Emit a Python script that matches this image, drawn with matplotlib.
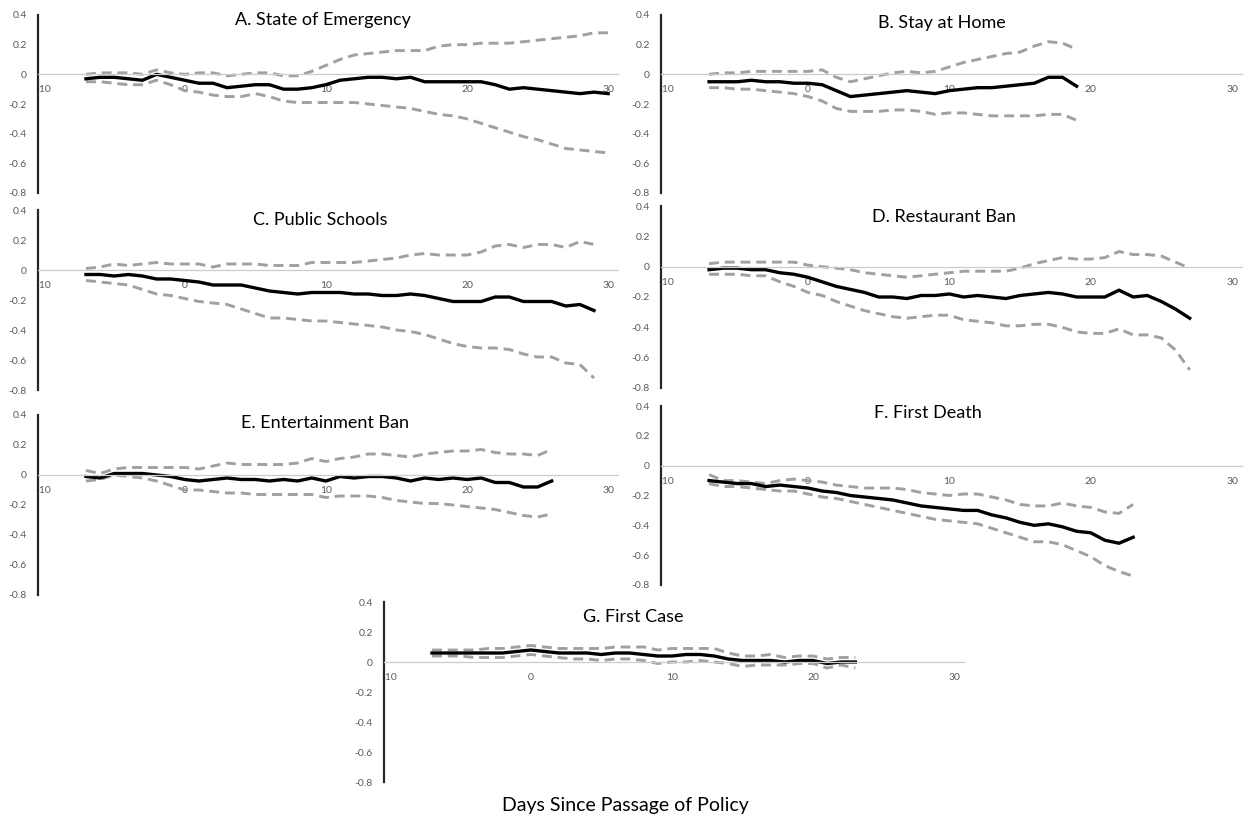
import numpy as np
import matplotlib
matplotlib.use('Agg')
import matplotlib.pyplot as plt

plt.rcParams['font.family'] = ['Lato', 'DejaVu Sans']

titles = ['A. State of Emergency', 'B. Stay at Home', 'C. Public Schools',
          'D. Restaurant Ban', 'E. Entertainment Ban', 'F. First Death',
          'G. First Case']
x_ticks = [-10, 0, 10, 20, 30]
y_ticks = [0.4, 0.2, 0, -0.2, -0.4, -0.6, -0.8]
y_tick_labels = ['0.4', '0.2', '0', '-0.2', '-0.4', '-0.6', '-0.8']

days_a = list(range(-7, 31))
est_a = [-0.03, -0.02, -0.02, -0.03, -0.04, 0.00, -0.02, -0.04, -0.06, -0.06,
         -0.09, -0.08, -0.07, -0.07, -0.10, -0.10, -0.09, -0.07, -0.04, -0.03,
         -0.02, -0.02, -0.03, -0.02, -0.05, -0.05, -0.05, -0.05, -0.05, -0.07,
         -0.10, -0.09, -0.10, -0.11, -0.12, -0.13, -0.12, -0.13]
upper_a = [0.00, 0.01, 0.01, 0.01, 0.00, 0.03, 0.01, 0.00, 0.01, 0.01,
           -0.01, 0.00, 0.01, 0.01, -0.01, -0.01, 0.02, 0.06, 0.10, 0.13,
           0.14, 0.15, 0.16, 0.16, 0.16, 0.19, 0.20, 0.20, 0.21, 0.21,
           0.21, 0.22, 0.23, 0.24, 0.25, 0.26, 0.28, 0.28]
lower_a = [-0.05, -0.05, -0.06, -0.07, -0.07, -0.04, -0.07, -0.11, -0.12, -0.14,
           -0.15, -0.15, -0.13, -0.15, -0.18, -0.19, -0.19, -0.19, -0.19, -0.19,
           -0.20, -0.21, -0.22, -0.23, -0.25, -0.27, -0.28, -0.30, -0.33, -0.36,
           -0.39, -0.42, -0.44, -0.47, -0.50, -0.51, -0.52, -0.53]

days_b = list(range(-7, 20))
est_b = [-0.05, -0.05, -0.05, -0.04, -0.05, -0.05, -0.06, -0.06, -0.07, -0.11,
         -0.15, -0.14, -0.13, -0.12, -0.11, -0.12, -0.13, -0.11, -0.10, -0.09,
         -0.09, -0.08, -0.07, -0.06, -0.02, -0.02, -0.08]
upper_b = [0.00, 0.01, 0.01, 0.02, 0.02, 0.02, 0.02, 0.02, 0.03, -0.02,
           -0.05, -0.03, -0.01, 0.01, 0.02, 0.01, 0.02, 0.05, 0.08, 0.10,
           0.12, 0.14, 0.15, 0.19, 0.22, 0.21, 0.17]
lower_b = [-0.09, -0.09, -0.10, -0.10, -0.11, -0.12, -0.13, -0.15, -0.18, -0.23,
           -0.25, -0.25, -0.25, -0.24, -0.24, -0.25, -0.27, -0.26, -0.26, -0.27,
           -0.28, -0.28, -0.28, -0.28, -0.27, -0.27, -0.31]

days_c = list(range(-7, 30))
est_c = [-0.03, -0.03, -0.04, -0.03, -0.04, -0.06, -0.06, -0.07, -0.08, -0.10,
         -0.10, -0.10, -0.12, -0.14, -0.15, -0.16, -0.15, -0.15, -0.15, -0.16,
         -0.16, -0.17, -0.17, -0.16, -0.17, -0.19, -0.21, -0.21, -0.21, -0.18,
         -0.18, -0.21, -0.21, -0.21, -0.24, -0.23, -0.27]
upper_c = [0.01, 0.02, 0.04, 0.03, 0.04, 0.05, 0.04, 0.04, 0.04, 0.02,
           0.04, 0.04, 0.04, 0.03, 0.03, 0.03, 0.05, 0.05, 0.05, 0.05,
           0.06, 0.07, 0.08, 0.10, 0.11, 0.10, 0.10, 0.10, 0.12, 0.16,
           0.17, 0.15, 0.17, 0.17, 0.15, 0.19, 0.17]
lower_c = [-0.07, -0.08, -0.09, -0.10, -0.13, -0.16, -0.17, -0.19, -0.21, -0.22,
           -0.23, -0.26, -0.29, -0.32, -0.32, -0.33, -0.34, -0.34, -0.35, -0.36,
           -0.37, -0.38, -0.40, -0.41, -0.43, -0.46, -0.49, -0.51, -0.52, -0.52,
           -0.53, -0.56, -0.58, -0.58, -0.62, -0.63, -0.72]

days_d = list(range(-7, 28))
est_d = [-0.02, -0.01, -0.01, -0.02, -0.02, -0.04, -0.05, -0.07, -0.10, -0.13,
         -0.15, -0.17, -0.20, -0.20, -0.21, -0.19, -0.19, -0.18, -0.20, -0.19,
         -0.20, -0.21, -0.19, -0.18, -0.17, -0.18, -0.20, -0.20, -0.20, -0.155,
         -0.20, -0.19, -0.23, -0.28, -0.34]
upper_d = [0.02, 0.03, 0.03, 0.03, 0.03, 0.03, 0.03, 0.01, 0.00, -0.01,
           -0.02, -0.04, -0.05, -0.06, -0.07, -0.06, -0.05, -0.04, -0.03, -0.03,
           -0.03, -0.03, -0.01, 0.02, 0.04, 0.06, 0.05, 0.05, 0.06, 0.10,
           0.08, 0.08, 0.07, 0.03, -0.01]
lower_d = [-0.05, -0.05, -0.05, -0.06, -0.06, -0.10, -0.13, -0.17, -0.19, -0.23,
           -0.26, -0.29, -0.31, -0.33, -0.34, -0.33, -0.32, -0.32, -0.35, -0.36,
           -0.37, -0.39, -0.39, -0.38, -0.38, -0.40, -0.43, -0.44, -0.44, -0.41,
           -0.45, -0.45, -0.47, -0.55, -0.68]

days_e = list(range(-7, 27))
est_e = [-0.01, -0.02, 0.01, 0.01, 0.01, 0.00, -0.01, -0.03, -0.04, -0.03,
         -0.02, -0.03, -0.03, -0.04, -0.03, -0.04, -0.02, -0.04, -0.01, -0.02,
         -0.01, -0.01, -0.02, -0.04, -0.02, -0.03, -0.02, -0.03, -0.02, -0.05,
         -0.05, -0.08, -0.08, -0.04]
upper_e = [0.03, 0.01, 0.04, 0.05, 0.05, 0.05, 0.05, 0.05, 0.04, 0.06,
           0.08, 0.07, 0.07, 0.07, 0.07, 0.08, 0.11, 0.09, 0.11, 0.12,
           0.14, 0.14, 0.13, 0.12, 0.14, 0.15, 0.16, 0.16, 0.17, 0.15,
           0.14, 0.14, 0.13, 0.17]
lower_e = [-0.04, -0.03, 0.00, -0.01, -0.02, -0.04, -0.07, -0.10, -0.10, -0.11,
           -0.12, -0.12, -0.13, -0.13, -0.13, -0.13, -0.13, -0.15, -0.14, -0.14,
           -0.14, -0.15, -0.17, -0.18, -0.19, -0.19, -0.20, -0.21, -0.22, -0.23,
           -0.25, -0.27, -0.28, -0.26]

days_f = list(range(-7, 24))
est_f = [-0.10, -0.11, -0.12, -0.12, -0.14, -0.13, -0.14, -0.15, -0.17, -0.18,
         -0.20, -0.21, -0.22, -0.23, -0.25, -0.27, -0.28, -0.29, -0.30, -0.30,
         -0.33, -0.35, -0.38, -0.40, -0.39, -0.41, -0.44, -0.45, -0.50, -0.52,
         -0.48]
upper_f = [-0.06, -0.10, -0.10, -0.11, -0.12, -0.10, -0.09, -0.10, -0.11, -0.13,
           -0.14, -0.15, -0.15, -0.15, -0.16, -0.18, -0.19, -0.20, -0.19, -0.19,
           -0.21, -0.23, -0.26, -0.27, -0.27, -0.25, -0.27, -0.28, -0.31, -0.32,
           -0.26]
lower_f = [-0.12, -0.14, -0.14, -0.15, -0.16, -0.17, -0.17, -0.19, -0.21, -0.22,
           -0.24, -0.26, -0.28, -0.30, -0.32, -0.34, -0.36, -0.37, -0.38, -0.39,
           -0.42, -0.45, -0.48, -0.51, -0.51, -0.53, -0.57, -0.61, -0.67, -0.71,
           -0.74]

days_g = list(range(-7, 24))
est_g = [0.06, 0.06, 0.06, 0.06, 0.06, 0.06, 0.07, 0.08, 0.07, 0.06,
         0.06, 0.06, 0.05, 0.06, 0.06, 0.05, 0.04, 0.04, 0.05, 0.05,
         0.04, 0.02, 0.01, 0.01, 0.01, 0.00, 0.01, 0.01, -0.01, 0.00,
         0.00]
upper_g = [0.08, 0.08, 0.08, 0.08, 0.09, 0.09, 0.10, 0.11, 0.10, 0.09,
           0.09, 0.09, 0.09, 0.10, 0.10, 0.10, 0.08, 0.09, 0.09, 0.09,
           0.09, 0.06, 0.04, 0.04, 0.05, 0.03, 0.04, 0.04, 0.02, 0.03,
           0.03]
lower_g = [0.04, 0.04, 0.04, 0.03, 0.03, 0.03, 0.04, 0.05, 0.04, 0.03,
           0.02, 0.02, 0.01, 0.02, 0.02, 0.01, -0.01, 0.00, 0.00, 0.01,
           0.00, -0.01, -0.03, -0.02, -0.02, -0.02, -0.01, -0.01, -0.04, -0.02,
           -0.04]

panels = [
    (days_a, est_a, upper_a, lower_a),
    (days_b, est_b, upper_b, lower_b),
    (days_c, est_c, upper_c, lower_c),
    (days_d, est_d, upper_d, lower_d),
    (days_e, est_e, upper_e, lower_e),
    (days_f, est_f, upper_f, lower_f),
    (days_g, est_g, upper_g, lower_g),
]

W, H = 1254, 819
# panel boxes in pixels: left, top (y=0.4), right, bottom (y=-0.8)
boxes = [(38, 15, 618, 193), (661, 15, 1242, 193),
         (38, 210, 618, 390), (661, 206, 1242, 388),
         (38, 415, 618, 595), (661, 406, 1242, 585),
         (384, 602, 964, 782)]
# title centres in pixels
title_pos = [(323, 20), (942, 23), (320, 220), (944, 217),
             (325, 423), (928, 413), (633, 617)]


def draw_panel(ax, days, est, upper, lower):
    ax.plot(days, upper, color='#a0a0a0', lw=2.1, dashes=(3.4, 2.0),
            solid_capstyle='butt')
    ax.plot(days, lower, color='#a0a0a0', lw=2.1, dashes=(3.4, 2.0),
            solid_capstyle='butt')
    ax.plot(days, est, color='black', lw=2.4)
    ax.set_xlim(-10.4, 30.7)
    ax.set_ylim(-0.8, 0.4)
    ax.set_xticks(x_ticks)
    ax.set_xticklabels([str(t) for t in x_ticks])
    ax.set_yticks(y_ticks)
    ax.set_yticklabels(y_tick_labels)
    ax.spines['top'].set_visible(False)
    ax.spines['right'].set_visible(False)
    ax.spines['bottom'].set_position(('data', 0))
    ax.spines['bottom'].set_color('#cccccc')
    ax.spines['bottom'].set_linewidth(0.9)
    ax.spines['left'].set_color('#262626')
    ax.spines['left'].set_linewidth(1.6)
    ax.tick_params(axis='both', length=0, labelsize=7.5, labelcolor='#595959')
    ax.tick_params(axis='x', pad=8)
    ax.tick_params(axis='y', pad=8)
    ax.patch.set_alpha(0)


fig = plt.figure(figsize=(W / 100, H / 100), dpi=100)

for (days, est, upper, lower), box, title, tpos in zip(panels, boxes, titles, title_pos):
    l, t, r, b = box
    ax = fig.add_axes([l / W, 1 - b / H, (r - l) / W, (b - t) / H])
    draw_panel(ax, days, est, upper, lower)
    fig.text(tpos[0] / W, 1 - tpos[1] / H, title, ha='center', va='center',
             fontsize=13, color='black')

fig.text(625 / W, 1 - 806 / H, 'Days Since Passage of Policy', ha='center',
         va='center', fontsize=14, color='black')

fig.savefig('out.png', dpi=100, facecolor='white')
